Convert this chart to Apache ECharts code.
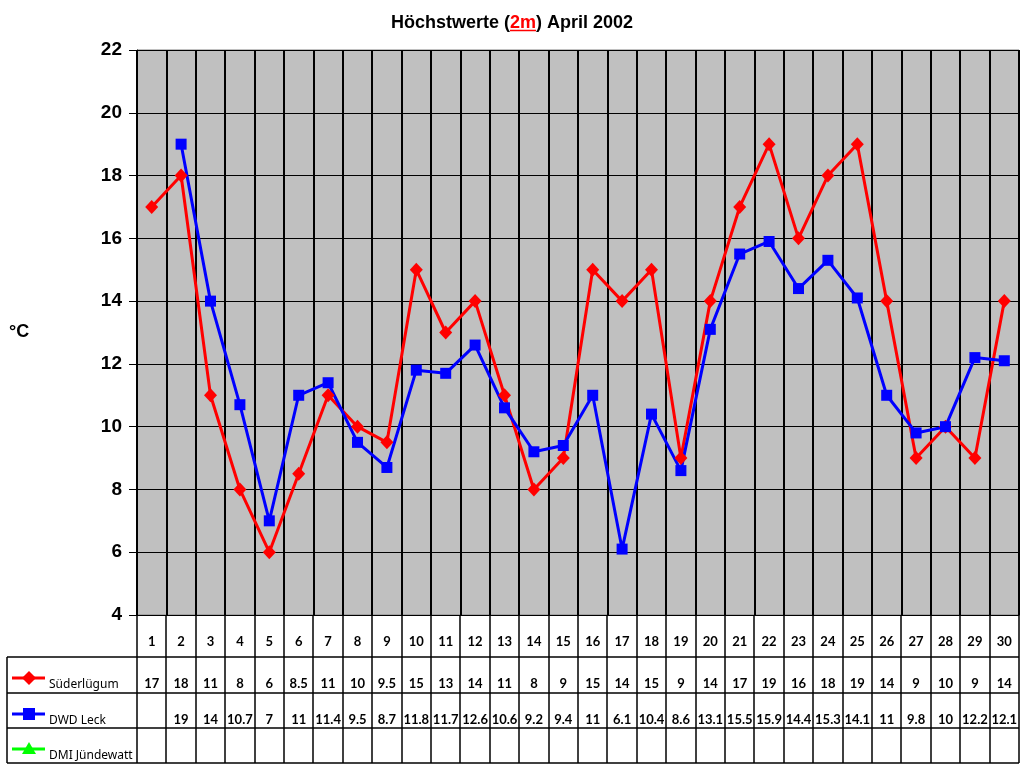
<!DOCTYPE html>
<html>
<head>
<meta charset="utf-8">
<script src="https://cdn.jsdelivr.net/npm/echarts@6/dist/echarts.min.js"></script>
<style>html,body{margin:0;padding:0;background:#fff}#c{width:1024px;height:768px}</style>
</head>
<body>
<div id="c"></div>
<script>
var days = ['1','2','3','4','5','6','7','8','9','10','11','12','13','14','15','16','17','18','19','20','21','22','23','24','25','26','27','28','29','30'];
var suederluegum = [17,18,11,8,6,8.5,11,10,9.5,15,13,14,11,8,9,15,14,15,9,14,17,19,16,18,19,14,9,10,9,14];
var dwdLeck = [null,19,14,10.7,7,11,11.4,9.5,8.7,11.8,11.7,12.6,10.6,9.2,9.4,11,6.1,10.4,8.6,13.1,15.5,15.9,14.4,15.3,14.1,11,9.8,10,12.2,12.1];
var dmiJuendewatt = [null,null,null,null,null,null,null,null,null,null,null,null,null,null,null,null,null,null,null,null,null,null,null,null,null,null,null,null,null,null];
var seriesNames = ['Süderlügum','DWD Leck','DMI Jündewatt'];
var seriesColors = ['#ff0000','#0000ff','#00ff00'];
var yTicks = {min:4, max:22, interval:2};

var chart = echarts.init(document.getElementById('c'), null, {renderer:'canvas'});
var G = {left:137, right:5, top:50, bottom:153};
var TF = 'Liberation Sans, Arial';
var option = {
  animation:false,
  backgroundColor:'#ffffff',
  title:{
    text:'{a|Höchstwerte (}{r|2m}{a|) April 2002}',
    left:'center', top:9,
    textStyle:{rich:{
      a:{fontFamily:TF, fontWeight:'bold', fontSize:18, color:'#000'},
      r:{fontFamily:TF, fontWeight:'bold', fontSize:18, color:'#ff0000'}
    }}
  },
  grid:{left:G.left, right:G.right, top:G.top, bottom:G.bottom, show:true, backgroundColor:'#c0c0c0', borderColor:'#808080', borderWidth:1},
  xAxis:{
    type:'category', data:days, boundaryGap:true,
    axisLine:{lineStyle:{color:'#000', width:1}},
    axisTick:{show:false}, axisLabel:{show:false},
    splitLine:{show:true, lineStyle:{color:'#000', width:2}}
  },
  yAxis:{
    type:'value', min:yTicks.min, max:yTicks.max, interval:yTicks.interval,
    axisLine:{show:true, lineStyle:{color:'#000', width:1}},
    axisTick:{show:true, length:8, lineStyle:{color:'#000'}},
    axisLabel:{fontFamily:TF, fontWeight:'bold', fontSize:19, color:'#000', margin:15},
    splitLine:{show:true, lineStyle:{color:'#000', width:1}}
  },
  series:[
    {name:seriesNames[0], type:'line', data:suederluegum, symbol:'diamond', symbolSize:[13,14], connectNulls:false,
     itemStyle:{color:seriesColors[0]}, lineStyle:{color:seriesColors[0], width:3}},
    {name:seriesNames[1], type:'line', data:dwdLeck, symbol:'rect', symbolSize:11, connectNulls:false,
     itemStyle:{color:seriesColors[1]}, lineStyle:{color:seriesColors[1], width:3}},
    {name:seriesNames[2], type:'line', data:dmiJuendewatt, symbol:'triangle', symbolSize:12,
     itemStyle:{color:seriesColors[2]}, lineStyle:{color:seriesColors[2], width:3}}
  ]
};
chart.setOption(option);

var g = [];
var x0 = G.left, x1 = 1024 - G.right;
var yTop = 768 - G.bottom;
var rows = [yTop, 657, 693, 728, 763];
var legendLeft = 7;
var colW = (x1 - x0) / days.length;
var ln = function(xa, ya, xb, yb){ return {type:'line', shape:{x1:xa,y1:ya,x2:xb,y2:yb}, style:{stroke:'#000', lineWidth:1.5}, z:10}; };
for (var i = 0; i <= days.length; i++) {
  var x = Math.round(x0 + i*colW);
  g.push(ln(x, yTop, x, rows[4]));
}
g.push(ln(legendLeft, rows[1], x1, rows[1]));
g.push(ln(legendLeft, rows[2], x1, rows[2]));
g.push(ln(legendLeft, rows[3], x1, rows[3]));
g.push(ln(legendLeft, rows[4], x1, rows[4]));
g.push(ln(legendLeft, rows[1], legendLeft, rows[4]));
var tf = 'Lato, Noto Sans, Arial';
var rowData = [suederluegum, dwdLeck, dmiJuendewatt];
for (var i = 0; i < days.length; i++) {
  var cx = chart.convertToPixel({xAxisIndex:0}, i);
  g.push({type:'text', x:cx, y:642, style:{text:days[i], font:'bold 13px '+tf, fill:'#000', align:'center', verticalAlign:'middle'}, z:11});
  for (var r = 0; r < 3; r++) {
    var v = rowData[r][i];
    if (v !== null && v !== undefined) {
      g.push({type:'text', x:cx, y:rows[r+1]+27, style:{text:String(v), font:'bold 13px '+tf, fill:'#000', align:'center', verticalAlign:'middle'}, z:11});
    }
  }
}
for (var r = 0; r < 3; r++) {
  var ly = rows[r+1] + 21;
  var c = seriesColors[r];
  g.push({type:'line', shape:{x1:12,y1:ly,x2:45,y2:ly}, style:{stroke:c, lineWidth:3}, z:11});
  if (r === 0) g.push({type:'polygon', shape:{points:[[29,ly-7],[36,ly],[29,ly+7],[22,ly]]}, style:{fill:c}, z:12});
  if (r === 1) g.push({type:'rect', shape:{x:23,y:ly-6,width:12,height:12}, style:{fill:c}, z:12});
  if (r === 2) g.push({type:'polygon', shape:{points:[[29,ly-7],[36,ly+5],[22,ly+5]]}, style:{fill:c}, z:12});
  g.push({type:'text', x:49, y:ly+7, style:{text:seriesNames[r], font:'12px Noto Sans, Arial', fill:'#000', align:'left', verticalAlign:'middle'}, z:11});
}
g.push({type:'text', x:9, y:332, style:{text:'°C', font:'bold 18px '+TF, fill:'#000', align:'left', verticalAlign:'middle'}, z:11});
var full = 'Höchstwerte (2m) April 2002';
var ctx = document.createElement('canvas').getContext('2d');
ctx.font = 'bold 18px ' + TF;
var wAll = ctx.measureText(full).width;
var wPre = ctx.measureText('Höchstwerte (').width;
var w2m = ctx.measureText('2m').width;
var startX = 512 - wAll/2 + wPre;
g.push({type:'line', shape:{x1:startX, y1:30.5, x2:startX+w2m, y2:30.5}, style:{stroke:'#ff0000', lineWidth:1.5}, z:11});
chart.setOption({graphic:g});
</script>
</body>
</html>
